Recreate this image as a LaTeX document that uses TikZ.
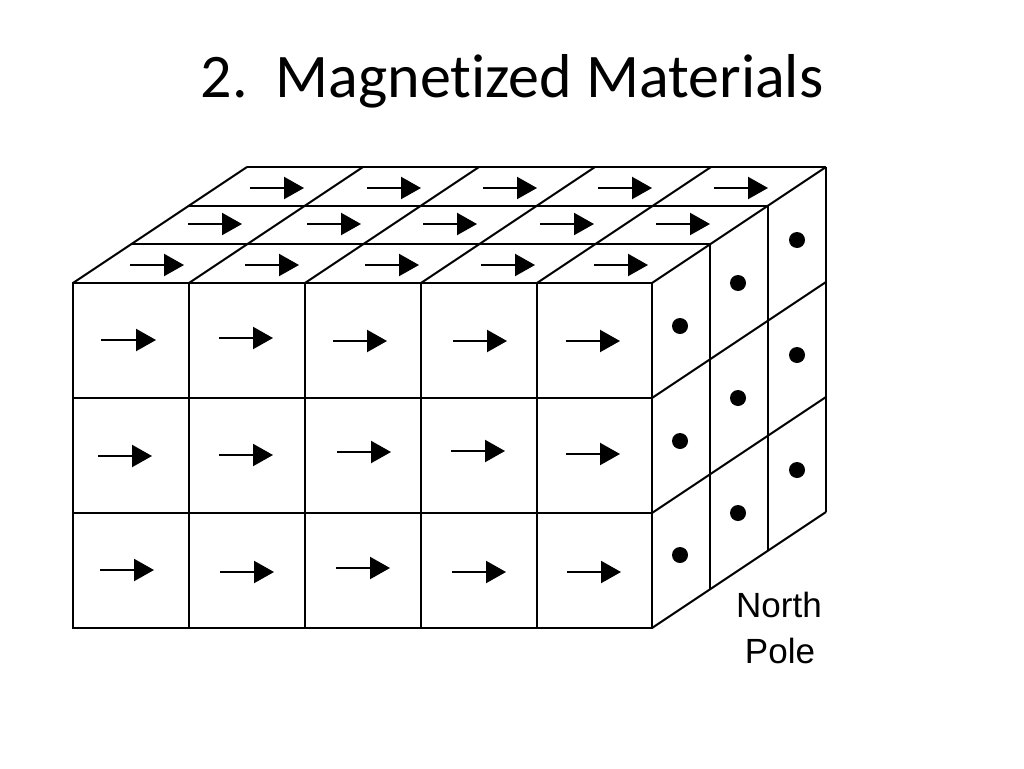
\documentclass[tikz,border=0pt]{standalone}
\usepackage{fontspec}
\setmainfont{Carlito}[Ligatures=NoCommon]
\newfontfamily\labelfont{Liberation Sans}
\usetikzlibrary{arrows.meta}
\begin{document}
\begin{tikzpicture}[x=1pt,y=-1pt,
  gridline/.style={line width=2pt, line join=miter},
  magarrow/.style={line width=2.2pt, -{Triangle[length=20pt,width=22pt]}},
  poledot/.style={fill=black}]
\useasboundingbox (0,0) rectangle (1024,768);
% title
\node[anchor=base, inner sep=0pt, font=\fontsize{62}{70}\selectfont] (title) at (512,97) {2.\ \ Magnetized Materials};
% front face
\draw[gridline] (73,283) rectangle (652,628);
\foreach \x in {189,305,421,537} \draw[gridline] (\x,283) -- (\x,628);
\foreach \y in {398,513} \draw[gridline] (73,\y) -- (652,\y);
% top face
\foreach \k in {1,2,3} \draw[gridline] ({73+58*\k},{283-38.667*\k}) -- ({652+58*\k},{283-38.667*\k});
\foreach \x in {73,189,305,421,537,652} \draw[gridline] (\x,283) -- ({\x+174},167);
% right face
\foreach \k in {1,2,3} \draw[gridline] ({652+58*\k},{283-38.667*\k}) -- ({652+58*\k},{628-38.667*\k});
\foreach \y in {398,513,628} \draw[gridline] (652,\y) -- (826,{\y-116});
% front arrows
\foreach \a/\b/\y in {101/156/340, 219/273/338, 333/387/341, 453/507/341, 566/620/341,
                      98/152/456, 219/273/455, 337/391/452, 451/505/451, 566/620/454,
                      100/154/570, 220/274/572, 336/390/568, 452/506/572, 567/621/572}
  \draw[magarrow] (\a,\y) -- (\b,\y);
% top arrows
\foreach \a/\b/\y in {250/304/188, 367/421/188, 483/537/188, 598/652/188, 714/768/188,
                      188/242/224, 307/361/224, 423/477/224, 540/594/224, 656/710/224,
                      130/184/265, 245/299/265, 365/419/265, 481/535/265, 594/648/265}
  \draw[magarrow] (\a,\y) -- (\b,\y);
% dots on right face
\foreach \x/\y in {680/326, 738/283, 797/240, 680/441, 738/398, 797/355, 680/555, 738/513, 797/470}
  \fill[poledot] (\x,\y) circle (8);
% label
\node[anchor=base, inner sep=0pt, font=\labelfont\fontsize{35}{46}\selectfont] (north) at (779,617) {North};
\node[anchor=base, inner sep=0pt, font=\labelfont\fontsize{35}{46}\selectfont] (pole) at (780,663) {Pole};
\end{tikzpicture}
\end{document}
